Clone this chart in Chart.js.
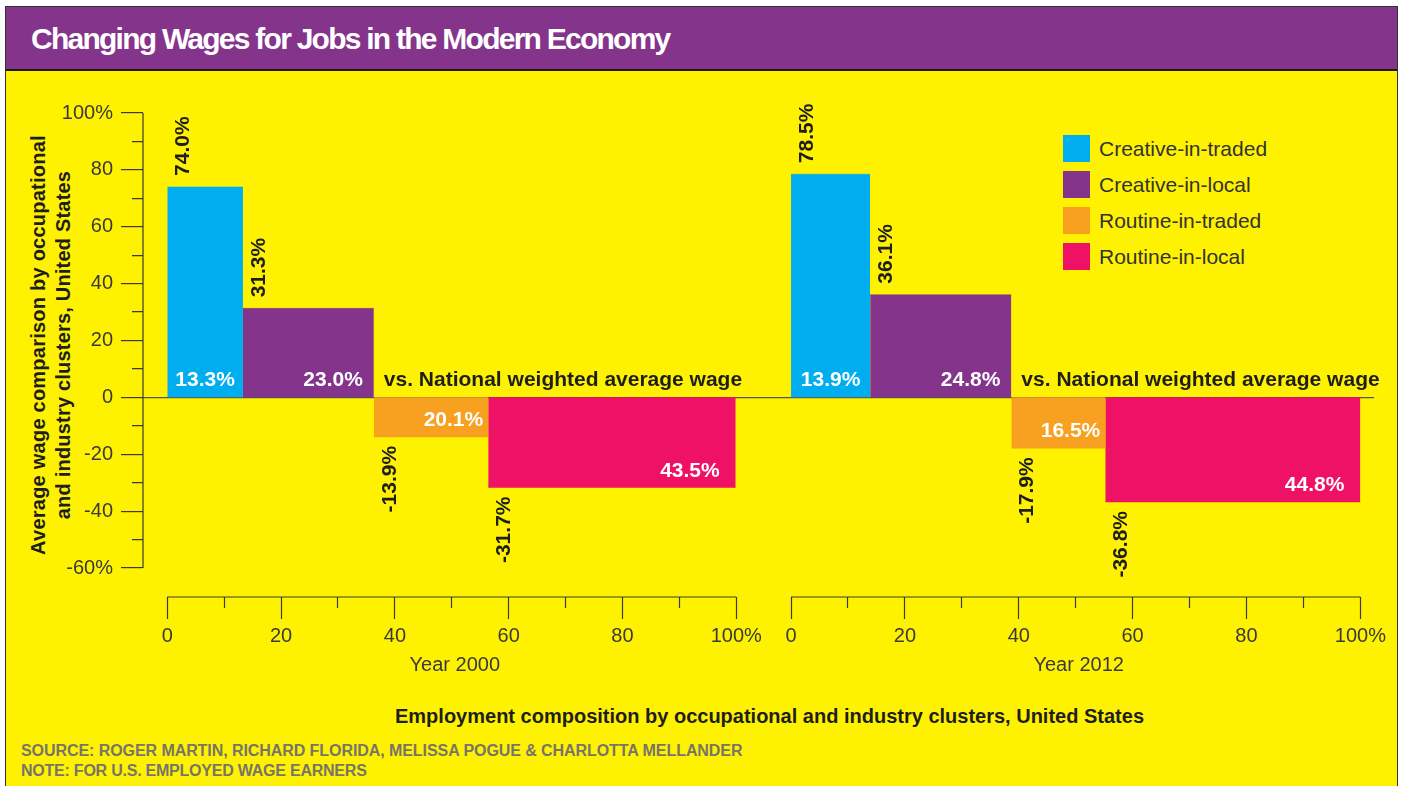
<!DOCTYPE html>
<html>
<head>
<meta charset="utf-8">
<script src="https://cdn.jsdelivr.net/npm/chart.js@4.4.1/dist/chart.umd.min.js"></script>
<style>
  body { margin: 0; width: 1401px; height: 786px; overflow: hidden; background: #fff; font-family: "Liberation Sans", Arial, sans-serif; }
  #frame { position: absolute; left: 5px; top: 6px; width: 1393px; height: 800px; background: #fff200; border: 1.5px solid #333; border-bottom: none; box-sizing: border-box; }
  #header { position: absolute; left: 0; top: 0; right: 0; height: 62px; background: #84348b; border-bottom: 2px solid #1a1a1a; }
  .txt { position: absolute; white-space: nowrap; }
  #title { left: 31px; top: 21px; font-size: 30px; line-height: 36px; font-weight: bold; color: #fff; }
  #ytitle { left: 0; top: 0; width: 480px; height: 50px; font-size: 20px; line-height: 25px; font-weight: bold; color: #1e1e1e; text-align: center; transform-origin: center; }
  #ytitle span { display: inline-block; white-space: nowrap; }
  #xtitle { top: 704px; font-size: 20px; line-height: 24px; font-weight: bold; color: #1e1e1e; }
  .foot { left: 21px; font-size: 16px; line-height: 18px; font-weight: bold; color: #77756a; }
  #legend { position: absolute; left: 1063px; top: 135px; }
  .item { position: relative; height: 36px; }
  .sw { position: absolute; left: 0; top: 0; width: 27px; height: 27px; }
  .lab { position: absolute; left: 36px; top: 0; font-size: 21px; line-height: 27px; color: #333; white-space: nowrap; }
  canvas { position: absolute; left: 0; top: 80px; }
</style>
</head>
<body>
<div id="frame"><div id="header"></div></div>
<div class="txt" id="title">Changing Wages for Jobs in the Modern Economy</div>
<div class="txt" id="ytitle"><span id="yt1">Average wage comparison by occupational</span><br><span id="yt2">and industry clusters, United States</span></div>
<div class="txt" id="xtitle">Employment composition by occupational and industry clusters, United States</div>
<div class="txt foot" id="src" style="top:742px">SOURCE: ROGER MARTIN, RICHARD FLORIDA, MELISSA POGUE &amp; CHARLOTTA MELLANDER</div>
<div class="txt foot" id="note" style="top:762px">NOTE: FOR U.S. EMPLOYED WAGE EARNERS</div>
<div id="legend"></div>
<canvas id="chart2000" width="1401" height="620"></canvas>
<canvas id="chart2012" width="1401" height="620"></canvas>
<script>
// categorias e valores
const categories = ['Creative-in-traded', 'Creative-in-local', 'Routine-in-traded', 'Routine-in-local'];
const colors = ['#00aeef', '#84358b', '#f8a01f', '#ee1166'];
const years = ['Year 2000', 'Year 2012'];
const share2000 = [13.3, 23.0, 20.1, 43.5];   // largura = % do emprego
const wage2000 = [74.0, 31.3, -13.9, -31.7];  // altura = % vs media nacional
const share2012 = [13.9, 24.8, 16.5, 44.8];
const wage2012 = [78.5, 36.1, -17.9, -36.8];
const yTicks = [-60, -50, -40, -30, -20, -10, 0, 10, 20, 30, 40, 50, 60, 70, 80, 90, 100];
const xTicks = [0, 10, 20, 30, 40, 50, 60, 70, 80, 90, 100];
const baselineNote = 'vs. National weighted average wage';

const FONT = '"Liberation Sans", Arial, sans-serif';
const INK = '#3a3a3a';

// ajusta o espacamento das letras para a largura medida no original
function fitWidth(id, target) {
    const el = document.getElementById(id);
    el.style.display = el.tagName === 'SPAN' ? 'inline-block' : el.style.display;
    const w = el.offsetWidth;
    const n = el.textContent.length - 1;
    el.style.letterSpacing = ((target - w) / n) + 'px';
}

// legenda
const legend = document.getElementById('legend');
categories.forEach((c, i) => {
    const item = document.createElement('div');
    item.className = 'item';
    item.innerHTML = '<div class="sw" style="background:' + colors[i] + '"></div><div class="lab">' + c + '</div>';
    legend.appendChild(item);
});

fitWidth('title', 640);
fitWidth('yt1', 420);
fitWidth('yt2', 348);
fitWidth('xtitle', 749);
fitWidth('src', 722);
fitWidth('note', 346);

const xt = document.getElementById('xtitle');
xt.style.left = (769.5 - xt.offsetWidth / 2) + 'px';
const yt = document.getElementById('ytitle');
yt.style.left = (50.5 - 240) + 'px';
yt.style.top = (345 - 25) + 'px';
yt.style.transform = 'rotate(-90deg)';

function buildDatasets(shares, wages) {
    let start = 0;
    return shares.map((w, i) => {
        const ds = {
            label: categories[i],
            data: [{ x: start, y: wages[i] }, { x: start + w, y: wages[i] }],
            showLine: true,
            fill: 'origin',
            backgroundColor: colors[i],
            borderColor: colors[i],
            borderWidth: 0.5,
            pointRadius: 0,
            pointHoverRadius: 0
        };
        start += w;
        return ds;
    });
}

// linhas dos eixos (so entre 0 e 100 / -60 e 100) e rotulos das barras
const panelDecor = {
    id: 'panelDecor',
    afterDraw(chart, args, opts) {
        const { ctx, scales: { x, y } } = chart;
        ctx.save();
        ctx.strokeStyle = INK;
        ctx.lineWidth = 1.2;
        ctx.beginPath();
        ctx.moveTo(x.getPixelForValue(0), x.top);
        ctx.lineTo(x.getPixelForValue(100), x.top);
        if (opts.yLine) {
            ctx.moveTo(chart.chartArea.left, y.getPixelForValue(100));
            ctx.lineTo(chart.chartArea.left, y.getPixelForValue(-60));
        }
        ctx.stroke();

        // titulo do painel
        ctx.font = '20px ' + FONT;
        ctx.fillStyle = INK;
        ctx.textAlign = 'center';
        ctx.textBaseline = 'middle';
        ctx.fillText(opts.year, x.getPixelForValue(50) + 3, 585);
        ctx.restore();
    },
    afterDatasetsDraw(chart, args, opts) {
        const { ctx, scales: { x, y } } = chart;
        const zero = y.getPixelForValue(0);
        const pads = [0, 11, 5, 16];
        let start = 0;
        ctx.save();
        ctx.font = 'bold 21px ' + FONT;
        opts.shares.forEach((w, i) => {
            const v = opts.wages[i];
            const x0 = x.getPixelForValue(start);
            const x1 = x.getPixelForValue(start + w);
            const top = y.getPixelForValue(v);

            // largura (parcela do emprego) dentro da barra
            ctx.fillStyle = '#fff';
            ctx.textBaseline = 'alphabetic';
            const wy = v > 0 ? zero - 11 : top - 11;
            if (i === 0) {
                ctx.textAlign = 'center';
                ctx.fillText(w.toFixed(1) + '%', (x0 + x1) / 2, wy);
            } else {
                ctx.textAlign = 'right';
                ctx.fillText(w.toFixed(1) + '%', x1 - pads[i], wy);
            }

            // altura (salario) rotacionada fora da barra
            ctx.save();
            ctx.translate(x0 + 16, v > 0 ? top - 11 : top + 9);
            ctx.rotate(-Math.PI / 2);
            ctx.fillStyle = '#1e1e1e';
            ctx.textBaseline = 'middle';
            ctx.textAlign = v > 0 ? 'left' : 'right';
            ctx.fillText(v.toFixed(1) + '%', 0, 0);
            ctx.restore();

            if (i === 1) {
                ctx.fillStyle = '#1e1e1e';
                ctx.textAlign = 'left';
                ctx.textBaseline = 'alphabetic';
                ctx.fillText(baselineNote, x1 + 10, zero - 11);
            }
            start += w;
        });
        ctx.restore();
    }
};

function makeChart(canvasId, year, shares, wages, cfg) {
    const ctx = document.getElementById(canvasId).getContext('2d');
    return new Chart(ctx, {
        type: 'scatter',
        data: { datasets: buildDatasets(shares, wages) },
        plugins: [panelDecor],
        options: {
            responsive: false,
            animation: false,
            events: [],
            layout: { padding: cfg.padding },
            plugins: {
                legend: { display: false },
                tooltip: { enabled: false },
                panelDecor: { year: year, shares: shares, wages: wages, yLine: cfg.yAxis }
            },
            scales: {
                x: {
                    type: 'linear',
                    min: cfg.xMin,
                    max: cfg.xMax,
                    afterBuildTicks: s => { s.ticks = xTicks.map(v => ({ value: v })); },
                    afterFit: s => { s.height = 103; },
                    border: { display: false },
                    grid: {
                        drawOnChartArea: false,
                        tickLength: 22,
                        tickColor: INK,
                        tickWidth: 1.2,
                        tickBorderDash: c => (c.tick && c.tick.value % 20 !== 0) ? [11, 40] : []
                    },
                    ticks: {
                        autoSkip: false,
                        maxRotation: 0,
                        minRotation: 0,
                        padding: 5,
                        color: INK,
                        font: { family: FONT, size: 20 },
                        callback: v => v % 20 !== 0 ? '' : (v === 100 ? '100%' : String(v))
                    }
                },
                y: {
                    type: 'linear',
                    min: -70.2,
                    max: 100,
                    afterBuildTicks: s => { s.ticks = yTicks.map(v => ({ value: v })); },
                    afterFit: s => { s.width = cfg.yWidth; },
                    border: { display: false },
                    grid: {
                        drawOnChartArea: true,
                        drawTicks: cfg.yAxis,
                        color: c => (c.tick && c.tick.value === 0) ? '#555' : 'rgba(0,0,0,0)',
                        lineWidth: 1.2,
                        tickLength: 22,
                        tickColor: INK,
                        tickWidth: 1.2,
                        tickBorderDash: c => (c.tick && c.tick.value % 20 !== 0) ? [0, 11, 11, 40] : []
                    },
                    ticks: {
                        display: cfg.yAxis,
                        padding: 8,
                        color: INK,
                        font: { family: FONT, size: 20 },
                        callback: v => {
                            if (v === 100 || v === -60) return v + '%';
                            return v % 20 === 0 ? String(v) : '';
                        }
                    }
                }
            }
        }
    });
}

makeChart('chart2000', years[0], share2000, wage2000, {
    padding: { left: 20, right: 611, top: 33, bottom: 0 },
    xMin: -4.27, xMax: 109.44, yWidth: 123, yAxis: true
});
makeChart('chart2012', years[1], share2012, wage2012, {
    padding: { left: 790, right: 27, top: 33, bottom: 0 },
    xMin: -0.18, xMax: 102.4, yWidth: 0, yAxis: false
});
</script>
</body>
</html>
